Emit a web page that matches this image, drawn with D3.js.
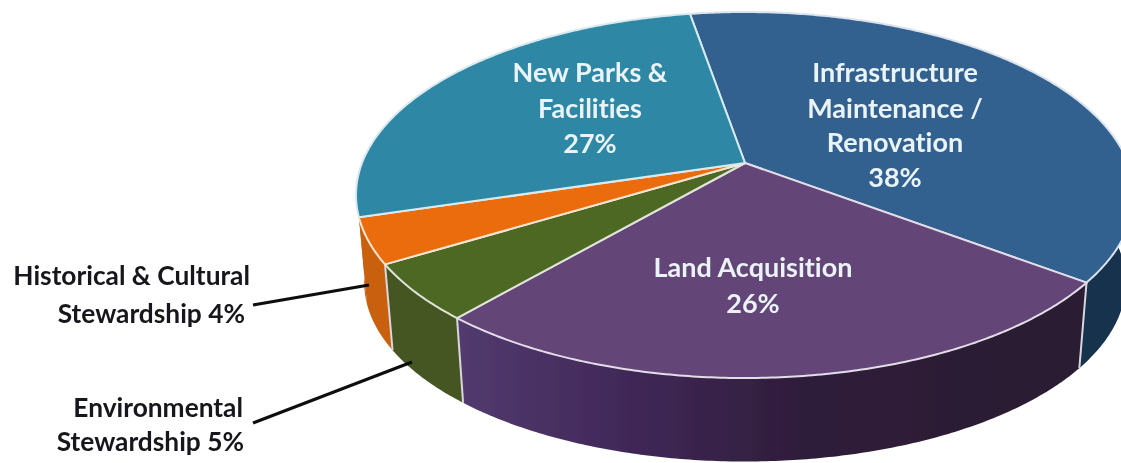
<!DOCTYPE html>
<html><head><meta charset="utf-8">
<script src="https://cdn.jsdelivr.net/npm/d3@7"></script>
<style>html,body{margin:0;padding:0;background:#fff}svg{display:block}
text{font-family:Lato,"Open Sans",sans-serif;font-weight:700;font-variant-ligatures:none}</style></head>
<body><svg id="c" width="1121" height="463"></svg>
<script>
const categories = ["Infrastructure Maintenance / Renovation","Land Acquisition","Environmental Stewardship","Historical & Cultural Stewardship","New Parks & Facilities"];
const values = [38,26,5,4,27];
const topColors = ["#33608f","#634478","#4e6724","#ea6c08","#2e88a5"];
const wallColors = ["#16304e","#3a2549","#445620","#c9600f","#c9600f"];
const insideLabels = [["Infrastructure","Maintenance /","Renovation","38%"],["Land Acquisition","26%"],["New Parks &","Facilities","27%"]];
const sideLabels = [["Historical & Cultural","Stewardship 4%"],["Environmental","Stewardship 5%"]];

const W=1121,H=463;
const svg=d3.select("#c");
const defs=svg.append("defs");
defs.append("filter").attr("id","soft").attr("x","-5%").attr("y","-5%").attr("width","110%").attr("height","110%")
  .append("feGaussianBlur").attr("stdDeviation",0.6);
const g=defs.append("linearGradient").attr("id","wall1").attr("gradientUnits","userSpaceOnUse")
  .attr("x1",460).attr("x2",1080).attr("y1",0).attr("y2",0);
[[0,"#523a6e"],[0.25,"#42295a"],[0.55,"#2f1d3b"],[1,"#2a1a30"]].forEach(s=>g.append("stop").attr("offset",s[0]).attr("stop-color",s[1]));

// perspective projection of the unit disc
const apex=[745,163], A=383, B=177.4, p=0.175, shrink=0.979, baseApexY=251;
function proj(a,r=1){const x=r*Math.sin(a),y=-r*Math.cos(a),w=1-p*y;return [apex[0]+A*x/w,apex[1]+B*y/w];}
function projBase(a){const q=proj(a);return [apex[0]+(q[0]-apex[0])*shrink,baseApexY+(q[1]-apex[1])*shrink];}

const start=-9.7*Math.PI/180;
const arcs=d3.pie().sort(null).startAngle(start).endAngle(start+2*Math.PI)(values);
const sample=(a0,a1)=>{const n=Math.max(2,Math.ceil((a1-a0)/0.01));return d3.range(n+1).map(i=>a0+(a1-a0)*i/n);};
const line=d3.line();
const root=svg.append("g").attr("filter","url(#soft)");

// side walls
root.append("g").selectAll("path").data(arcs).join("path")
  .attr("d",d=>{const t=sample(d.startAngle,d.endAngle);
    return line(t.map(a=>proj(a)).concat(t.slice().reverse().map(projBase)))+"Z";})
  .attr("fill",(d,i)=>i===1?"url(#wall1)":wallColors[i]);
// wall dividers
root.append("g").selectAll("path").data(arcs.filter((d,i)=>i<3)).join("path")
  .attr("d",d=>line([proj(d.endAngle),projBase(d.endAngle)]))
  .attr("stroke","#d9d6dd").attr("stroke-width",2).attr("fill","none");
// top faces
root.append("g").selectAll("path").data(arcs).join("path")
  .attr("d",d=>line([apex].concat(sample(d.startAngle,d.endAngle).map(a=>proj(a))))+"Z")
  .attr("fill",(d,i)=>topColors[i])
  .attr("stroke",(d,i)=>d3.interpolateRgb(topColors[i],"#fff")(0.82))
  .attr("stroke-width",2).attr("stroke-linejoin","round");

// leader lines
const leaders=root.append("g").attr("stroke","#0c0c0c").attr("stroke-width",3).attr("fill","none");
[[[253,305],[369,285]],[[253,423],[412,362]]].forEach(l=>leaders.append("path").attr("d",line(l)));

// inside labels
const insidePos=[{x:895,y:[82,118,152,187]},{x:753,y:[277,313]},{x:590,y:[82,118,153]}];
insideLabels.forEach((ls,k)=>ls.forEach((t,i)=>root.append("text").text(t)
  .attr("x",insidePos[k].x).attr("y",insidePos[k].y[i]).attr("text-anchor","middle")
  .attr("font-size",27).attr("fill","#eaf3f6")));
// side labels
const sidePos=[{x:[250,245],y:[285,323]},{x:[243,244],y:[417,451]}];
sideLabels.forEach((ls,k)=>ls.forEach((t,i)=>root.append("text").text(t)
  .attr("x",sidePos[k].x[i]).attr("y",sidePos[k].y[i]).attr("text-anchor","end")
  .attr("font-size",26.3).attr("fill","#15151a")));
</script></body></html>
